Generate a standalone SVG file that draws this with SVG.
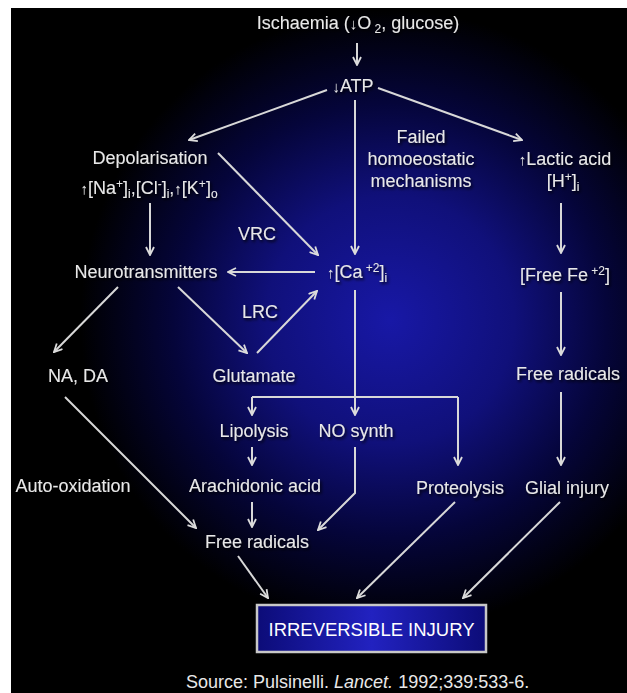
<svg xmlns="http://www.w3.org/2000/svg" width="627" height="693" viewBox="0 0 627 693">
<defs>
<radialGradient id="glow" gradientUnits="userSpaceOnUse" cx="390" cy="320" r="310">
<stop offset="0" stop-color="#1818a6"/>
<stop offset="0.4" stop-color="#10107a"/>
<stop offset="0.7" stop-color="#05053a"/>
<stop offset="1" stop-color="#000000"/>
</radialGradient>
<linearGradient id="boxfill" x1="0" y1="0" x2="1" y2="0">
<stop offset="0" stop-color="#0c0c78"/>
<stop offset="0.5" stop-color="#2222c0"/>
<stop offset="1" stop-color="#0c0c78"/>
</linearGradient>
<filter id="shadow" x="-10%" y="-30%" width="130%" height="170%">
<feDropShadow dx="1.5" dy="2" stdDeviation="1.5" flood-color="#000" flood-opacity="0.9"/>
</filter>
<marker id="ah" viewBox="0 0 10 10" refX="9" refY="5" markerWidth="10" markerHeight="10" markerUnits="userSpaceOnUse" orient="auto">
<path d="M1,1 L9,5 L1,9" fill="none" stroke="#dcdcdc" stroke-width="1.8"/>
</marker>
</defs>
<style>
text{font-family:"Liberation Sans",Arial,sans-serif;font-size:18px;fill:#e8e8e8;text-anchor:middle}
.sm{font-size:12px}
.arr{font-size:15px}
.c{fill:none;stroke:#d8d8d8;stroke-width:2}
.a{marker-end:url(#ah)}
</style>
<rect x="0" y="0" width="627" height="693" fill="#ffffff"/>
<rect x="11" y="8" width="616" height="685" fill="#000000"/>
<rect x="11" y="8" width="616" height="685" fill="url(#glow)"/>

<g id="connectors">
<line class="c a" x1="357" y1="43" x2="357" y2="65"/>
<line class="c a" x1="327" y1="90" x2="189" y2="140"/>
<line class="c a" x1="378" y1="88" x2="522" y2="140"/>
<line class="c a" x1="355" y1="100" x2="355" y2="254"/>
<line class="c a" x1="218" y1="153" x2="318" y2="255"/>
<line class="c a" x1="150" y1="203" x2="150" y2="255"/>
<line class="c a" x1="315" y1="272" x2="228" y2="272"/>
<line class="c a" x1="118" y1="287" x2="54" y2="352"/>
<line class="c a" x1="178" y1="287" x2="247" y2="353"/>
<line class="c a" x1="257" y1="353" x2="317" y2="291"/>
<line class="c a" x1="561" y1="203" x2="561" y2="253"/>
<line class="c a" x1="561" y1="292" x2="561" y2="355"/>
<line class="c a" x1="561" y1="392" x2="561" y2="465"/>
<line class="c a" x1="355" y1="290" x2="355" y2="415"/>
<polyline class="c a" points="252,397 252,397 252,415"/>
<line class="c" x1="252" y1="397" x2="458" y2="397"/>
<line class="c a" x1="458" y1="397" x2="458" y2="465"/>
<line class="c a" x1="252" y1="447" x2="252" y2="465"/>
<line class="c a" x1="65" y1="397" x2="196" y2="528"/>
<line class="c a" x1="252" y1="502" x2="252" y2="527"/>
<polyline class="c a" points="355,447 355,493 318,530"/>
<line class="c a" x1="238" y1="556" x2="268" y2="598"/>
<line class="c a" x1="455" y1="502" x2="357" y2="598"/>
<line class="c a" x1="560" y1="502" x2="463" y2="598"/>
</g>

<g filter="url(#shadow)">
<g id="ischaemia"><text x="358" y="29">Ischaemia (<tspan class="arr">↓</tspan>O<tspan class="sm" dy="4"> 2</tspan><tspan dy="-4">, glucose)</tspan></text></g>
<g id="atp"><text x="353" y="92"><tspan class="arr">↓</tspan>ATP</text></g>
<g id="depolarisation"><text x="150" y="164">Depolarisation</text>
<text x="149" y="194"><tspan class="arr">↑</tspan>[Na<tspan class="sm" dy="-6">+</tspan><tspan dy="6">]</tspan><tspan class="sm" dy="4">i</tspan><tspan dy="-4">,[Cl</tspan><tspan class="sm" dy="-6">-</tspan><tspan dy="6">]</tspan><tspan class="sm" dy="4">i</tspan><tspan dy="-4">,</tspan><tspan class="arr">↑</tspan>[K<tspan class="sm" dy="-6">+</tspan><tspan dy="6">]</tspan><tspan class="sm" dy="4">o</tspan></text></g>
<g id="failed"><text x="421" y="143">Failed</text><text x="421" y="165">homoeostatic</text><text x="421" y="187">mechanisms</text></g>
<g id="lactic"><text x="565" y="165"><tspan class="arr">↑</tspan>Lactic acid</text>
<text x="563" y="187">[H<tspan class="sm" dy="-6">+</tspan><tspan dy="6">]</tspan><tspan class="sm" dy="4">i</tspan></text></g>
<g id="vrc"><text x="257" y="240">VRC</text></g>
<g id="neurotransmitters"><text x="146" y="278">Neurotransmitters</text></g>
<g id="calcium"><text x="357" y="278"><tspan class="arr">↑</tspan>[Ca<tspan class="sm" dy="-6"> +2</tspan><tspan dy="6">]</tspan><tspan class="sm" dy="4">i</tspan></text></g>
<g id="freefe"><text x="565" y="281">[Free Fe<tspan class="sm" dy="-6"> +2</tspan><tspan dy="6">]</tspan></text></g>
<g id="lrc"><text x="260" y="318">LRC</text></g>
<g id="nada"><text x="78" y="382">NA, DA</text></g>
<g id="glutamate"><text x="254" y="382">Glutamate</text></g>
<g id="freeradicals-right"><text x="568" y="380">Free radicals</text></g>
<g id="lipolysis"><text x="254" y="437">Lipolysis</text></g>
<g id="nosynth"><text x="356" y="437">NO synth</text></g>
<g id="autooxidation"><text x="73" y="492">Auto-oxidation</text></g>
<g id="arachidonic"><text x="255" y="492">Arachidonic acid</text></g>
<g id="proteolysis"><text x="460" y="494">Proteolysis</text></g>
<g id="glial"><text x="567" y="494">Glial injury</text></g>
<g id="freeradicals"><text x="257" y="548">Free radicals</text></g>
</g>

<g id="irreversible">
<rect x="257" y="605" width="229" height="47" fill="url(#boxfill)" stroke="#c8c8c8" stroke-width="2.5"/>
<text x="371.5" y="636" textLength="206" lengthAdjust="spacingAndGlyphs" style="fill:#ffffff">IRREVERSIBLE INJURY</text>
</g>
<g id="source"><text x="186" y="688" style="text-anchor:start">Source: Pulsinelli. <tspan font-style="italic">Lancet.</tspan> 1992;339:533-6.</text></g>
</svg>
